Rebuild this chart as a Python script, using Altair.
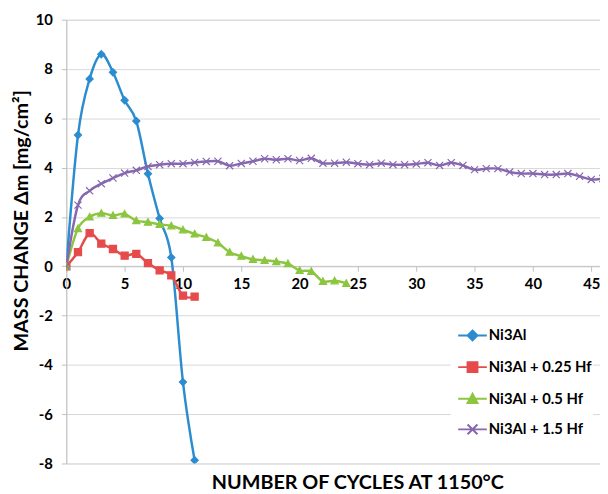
import altair as alt
import pandas as pd

series_names = ["Ni3Al", "Ni3Al + 0.25 Hf", "Ni3Al + 0.5 Hf", "Ni3Al + 1.5 Hf"]
series_colors = ["#2B8CD0", "#E64B4B", "#8CC641", "#8667B0"]

ni3al_cycles = list(range(12))
ni3al_mass = [0, 5.32, 7.6, 8.6, 7.87, 6.73, 5.89, 3.75, 1.94, 0.36, -4.70, -7.87]

hf025_cycles = list(range(12))
hf025_mass = [0, 0.57, 1.34, 0.92, 0.70, 0.43, 0.50, 0.13, -0.17, -0.37, -1.19, -1.23]

hf05_cycles = list(range(25))
hf05_mass = [0, 1.53, 2.00, 2.15, 2.06, 2.12, 1.85, 1.79, 1.70, 1.64, 1.48, 1.31,
             1.17, 0.95, 0.57, 0.41, 0.28, 0.24, 0.19, 0.11, -0.17, -0.21, -0.61,
             -0.59, -0.69]

hf15_cycles = list(range(47))
hf15_mass = [0, 2.48, 3.06, 3.35, 3.58, 3.78, 3.89, 4.05, 4.12, 4.16, 4.16, 4.21,
             4.25, 4.26, 4.08, 4.17, 4.26, 4.36, 4.32, 4.36, 4.29, 4.38, 4.18, 4.18,
             4.22, 4.16, 4.12, 4.18, 4.12, 4.12, 4.15, 4.20, 4.09, 4.20, 4.09, 3.92,
             3.96, 3.96, 3.82, 3.76, 3.76, 3.72, 3.72, 3.76, 3.65, 3.52, 3.56]

x_ticks = [0, 5, 10, 15, 20, 25, 30, 35, 40, 45]
y_ticks = [-8, -6, -4, -2, 0, 2, 4, 6, 8, 10]

x_domain = [0, 45.75]
y_domain = [-8, 10]

marker_paths = ["M0,-1L1,0L0,1L-1,0Z", "M-1,-1H1V1H-1Z", "M0,-1L1,0.85H-1Z",
                "M-1,-1L1,1M-1,1L1,-1"]
legend_paths = ["M-2.9,0H2.9" + p for p in marker_paths]

rows = []
for name, cyc, vals in zip(series_names,
                           [ni3al_cycles, hf025_cycles, hf05_cycles, hf15_cycles],
                           [ni3al_mass, hf025_mass, hf05_mass, hf15_mass]):
    for c, v in zip(cyc, vals):
        rows.append({"cycle": c, "mass": v, "series": name})
df = pd.DataFrame(rows)

W, H = 540, 449
FONT = "Lato"

x_enc = alt.X("cycle:Q",
              scale=alt.Scale(domain=x_domain, nice=False, zero=False),
              axis=alt.Axis(values=x_ticks, title=None, grid=False,
                            offset=-H * (0 - y_domain[0]) / (y_domain[1] - y_domain[0]),
                            labelExpr="toString(datum.value)",
                            labelFont=FONT, labelFontSize=15, labelFontWeight="bold",
                            labelColor="black", labelPadding=6, labelFlush=False,
                            tickSize=5, tickColor="#bfbfbf", domainColor="#bfbfbf"))
y_enc = alt.Y("mass:Q",
              scale=alt.Scale(domain=y_domain, nice=False),
              axis=alt.Axis(values=y_ticks, title="MASS CHANGE Δm [mg/cm²]",
                            labelExpr="toString(datum.value)",
                            titleFont=FONT, titleFontSize=20, titleFontWeight="bold",
                            titleColor="black", titleX=-45, titleY=203, titleAngle=270,
                            titleAlign="center", titleBaseline="middle",
                            labelFont=FONT, labelFontSize=15, labelFontWeight="bold",
                            labelColor="black", labelPadding=9, tickSize=5,
                            tickColor="#bfbfbf", domainColor="#bfbfbf",
                            gridColor="#d9d9d9", gridWidth=1))

col_scale = alt.Scale(domain=series_names, range=series_colors)

lines = alt.Chart(df).mark_line(interpolate="cardinal", strokeWidth=2.5, clip=True).encode(
    x=x_enc, y=y_enc,
    color=alt.Color("series:N", scale=col_scale, legend=None),
    order=alt.Order("cycle:Q"),
)

points = alt.Chart(df).mark_point(filled=False, size=52, strokeWidth=1.2, opacity=1,
                                   clip=True).encode(
    x=x_enc, y=y_enc,
    color=alt.Color("series:N", scale=col_scale, legend=None),
    fill=alt.Fill("series:N", scale=col_scale, legend=None),
    shape=alt.Shape("series:N", scale=alt.Scale(domain=series_names, range=marker_paths),
                    legend=None),
)

leg = alt.Legend(orient="none", legendX=389, legendY=312, title=None,
                 labelFont=FONT, labelFontSize=15, labelFontWeight="bold",
                 labelColor="black", symbolOffset=14.5, labelOffset=9,
                 rowPadding=13, padding=0, fillColor="white", strokeColor="white",
                 symbolStrokeWidth=2)

legend_layer = alt.Chart(df).transform_filter("false").mark_point(
    filled=False, size=64, strokeWidth=2, opacity=1).encode(
    x=x_enc, y=y_enc,
    color=alt.Color("series:N", scale=col_scale, legend=leg),
    fill=alt.Fill("series:N", scale=col_scale, legend=leg),
    shape=alt.Shape("series:N", scale=alt.Scale(domain=series_names, range=legend_paths),
                    legend=leg),
)

chart = alt.layer(lines, points, legend_layer).resolve_scale(
    color="independent", shape="independent", fill="independent"
).properties(
    width=W, height=H,
    autosize=alt.AutoSizeParams(type="none"),
    padding={"left": 59, "top": 9, "right": 0, "bottom": 26},
    title=alt.TitleParams("NUMBER OF CYCLES AT 1150°C", orient="bottom", anchor="middle",
                          frame="group", font=FONT, fontSize=20, fontWeight="bold",
                          color="black", dx=25, offset=2),
).configure_view(stroke=None).configure(background="white")

chart.save("out.html", embed_options={"renderer": "svg", "actions": False})
